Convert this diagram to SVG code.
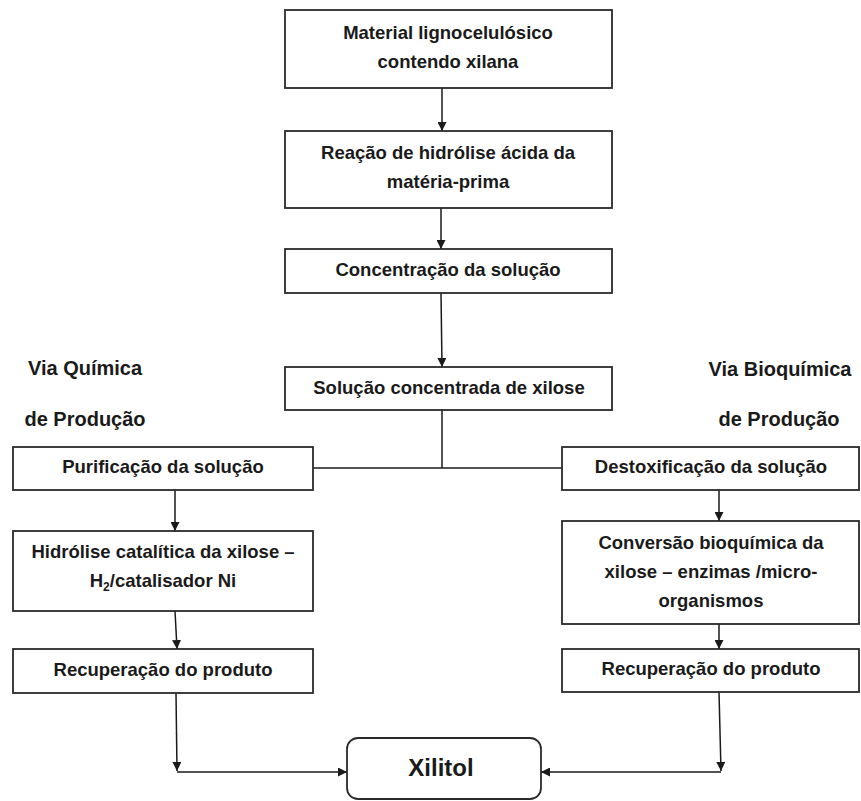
<svg xmlns="http://www.w3.org/2000/svg" width="861" height="801" viewBox="0 0 861 801">
<defs>
<style>
.box{fill:#fff;stroke:#2a2a2a;stroke-width:1.8}
.t{font-family:"Liberation Sans",Arial,sans-serif;font-weight:bold;font-size:18.5px;fill:#1a1a1a;text-anchor:middle}
.big{font-size:24px}
.lbl{font-family:"Liberation Sans",Arial,sans-serif;font-weight:bold;font-size:20px;fill:#1a1a1a;text-anchor:middle}
.c{fill:none;stroke:#1a1a1a;stroke-width:1.5}
</style>
<marker id="ah" viewBox="0 0 10 10" refX="10" refY="5" markerWidth="9" markerHeight="9" markerUnits="userSpaceOnUse" orient="auto">
<path d="M0,0 L10,5 L0,10 z" fill="#1a1a1a"/>
</marker>
</defs>
<rect width="861" height="801" fill="#fff"/>
<g id="connectors">
<line class="c" x1="442" y1="88" x2="442" y2="131" marker-end="url(#ah)"/>
<line class="c" x1="441" y1="208" x2="441" y2="249" marker-end="url(#ah)"/>
<line class="c" x1="441" y1="293" x2="442" y2="367" marker-end="url(#ah)"/>
<polyline class="c" points="442,410 442,468"/>
<line class="c" x1="313" y1="468" x2="562" y2="468"/>
<line class="c" x1="175" y1="490" x2="175" y2="531" marker-end="url(#ah)"/>
<line class="c" x1="175" y1="611" x2="177" y2="649" marker-end="url(#ah)"/>
<line class="c" x1="719" y1="490" x2="719" y2="521" marker-end="url(#ah)"/>
<line class="c" x1="719" y1="624" x2="719" y2="649" marker-end="url(#ah)"/>
<line class="c" x1="176" y1="693" x2="177" y2="771" marker-end="url(#ah)"/>
<line class="c" x1="177" y1="772" x2="347" y2="772" marker-end="url(#ah)"/>
<line class="c" x1="719" y1="692" x2="721" y2="771" marker-end="url(#ah)"/>
<line class="c" x1="721" y1="772" x2="541" y2="772" marker-end="url(#ah)"/>
</g>
<g id="n1">
<rect class="box" x="285" y="10" width="327" height="78"/>
<text class="t" x="448" y="39">Material lignocelulósico</text>
<text class="t" x="448" y="68">contendo xilana</text>
</g>
<g id="n2">
<rect class="box" x="285" y="131" width="327" height="77"/>
<text class="t" x="448" y="159">Reação de hidrólise ácida da</text>
<text class="t" x="448" y="188">matéria-prima</text>
</g>
<g id="n3">
<rect class="box" x="285" y="249" width="327" height="44"/>
<text class="t" x="448" y="276">Concentração da solução</text>
</g>
<g id="n4">
<rect class="box" x="285" y="367" width="327" height="43"/>
<text class="t" x="449" y="394">Solução concentrada de xilose</text>
</g>
<g id="lblQ">
<text class="lbl" x="85" y="375">Via Química</text>
<text class="lbl" x="85" y="426">de Produção</text>
</g>
<g id="lblB">
<text class="lbl" x="780" y="376">Via Bioquímica</text>
<text class="lbl" x="779" y="426">de Produção</text>
</g>
<g id="l1">
<rect class="box" x="13" y="447" width="300" height="43"/>
<text class="t" x="163" y="473">Purificação da solução</text>
</g>
<g id="l2">
<rect class="box" x="13" y="531" width="300" height="80"/>
<text class="t" x="163" y="558">Hidrólise catalítica da xilose –</text>
<text class="t" x="163" y="587">H<tspan font-size="12" dy="4">2</tspan><tspan dy="-4">/catalisador Ni</tspan></text>
</g>
<g id="l3">
<rect class="box" x="13" y="649" width="300" height="44"/>
<text class="t" x="163" y="676">Recuperação do produto</text>
</g>
<g id="r1">
<rect class="box" x="562" y="447" width="297" height="43"/>
<text class="t" x="711" y="473">Destoxificação da solução</text>
</g>
<g id="r2">
<rect class="box" x="562" y="521" width="297" height="103"/>
<text class="t" x="711" y="549">Conversão bioquímica da</text>
<text class="t" x="711" y="578">xilose – enzimas /micro-</text>
<text class="t" x="711" y="607">organismos</text>
</g>
<g id="r3">
<rect class="box" x="562" y="649" width="297" height="43"/>
<text class="t" x="711" y="675">Recuperação do produto</text>
</g>
<g id="xilitol">
<rect class="box" x="347" y="738" width="194" height="61" rx="11" ry="11"/>
<text class="t big" x="441" y="776">Xilitol</text>
</g>
</svg>
